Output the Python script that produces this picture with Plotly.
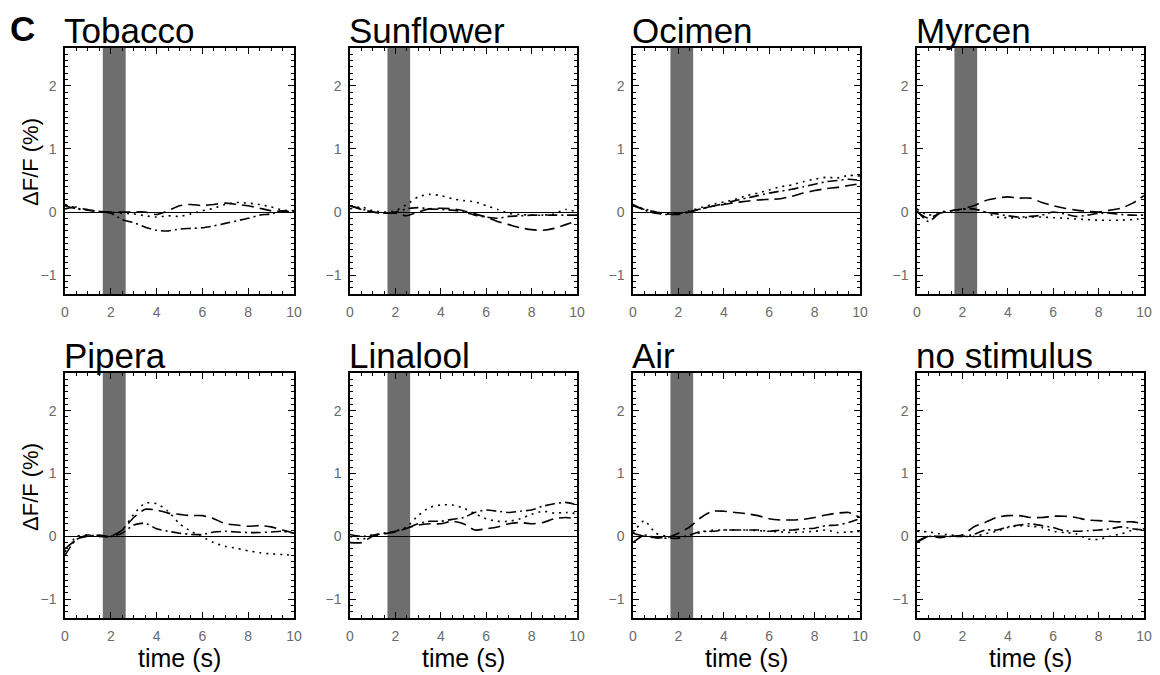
import plotly.graph_objects as go

# the page adds an 8px body margin; the figure is sized/positioned to compensate
PAGE_OFF = 8
W, H = 1160 - PAGE_OFF, 675 - PAGE_OFF

time_s = [0, 0.5, 1, 1.5, 2, 2.5, 3, 3.5, 4, 4.5, 5, 5.5, 6, 6.5, 7, 7.5, 8, 8.5, 9, 9.5, 10]

panel_names = ["Tobacco", "Sunflower", "Ocimen", "Myrcen",
               "Pipera", "Linalool", "Air", "no stimulus"]
has_stimulus = [True, True, True, True, True, True, True, False]
stim_on, stim_off = 1.65, 2.65

x_ticks = [0, 2, 4, 6, 8, 10]
y_ticks = [-1, 0, 1, 2]
y_tick_text = ["\u22121", "0", "1", "2"]

# dashed, dotted, dash-dot series per panel (ΔF/F, %)
tobacco_dash = [0.05, 0.08, 0.03, 0.01, 0.0, 0.0, 0.0, 0.0, -0.04, 0.02, 0.1, 0.12, 0.1, 0.12, 0.14, 0.12, 0.1, 0.06, 0.02, 0.01, 0.0]
tobacco_dot = [0.12, 0.06, 0.04, 0.0, 0.0, -0.02, -0.03, -0.06, -0.08, -0.06, -0.07, -0.03, 0.02, 0.06, 0.12, 0.15, 0.14, 0.12, 0.08, 0.03, 0.02]
tobacco_dashdot = [0.1, 0.05, 0.03, 0.01, -0.02, -0.12, -0.17, -0.24, -0.29, -0.3, -0.27, -0.26, -0.25, -0.22, -0.18, -0.14, -0.1, -0.05, -0.03, 0.02, 0.0]

sunflower_dash = [0.1, 0.04, 0.0, -0.02, -0.02, -0.06, 0.0, 0.05, 0.06, 0.05, 0.02, -0.03, -0.08, -0.15, -0.2, -0.25, -0.28, -0.29, -0.26, -0.2, -0.14]
sunflower_dot = [0.05, 0.08, 0.02, 0.0, 0.02, 0.12, 0.24, 0.28, 0.26, 0.21, 0.18, 0.16, 0.1, 0.04, -0.02, -0.04, -0.05, -0.05, -0.03, 0.04, 0.0]
sunflower_dashdot = [0.1, 0.05, 0.0, -0.02, 0.0, 0.05, 0.07, 0.05, 0.04, 0.03, 0.0, -0.05, -0.08, -0.1, -0.07, -0.06, -0.05, -0.05, -0.05, -0.05, -0.05]

ocimen_dash = [0.1, 0.04, 0.0, -0.03, -0.04, 0.0, 0.05, 0.09, 0.12, 0.15, 0.17, 0.19, 0.2, 0.21, 0.25, 0.3, 0.34, 0.37, 0.39, 0.42, 0.45]
ocimen_dot = [0.1, 0.05, 0.0, -0.03, -0.03, 0.02, 0.07, 0.12, 0.16, 0.2, 0.26, 0.3, 0.35, 0.4, 0.43, 0.48, 0.52, 0.55, 0.54, 0.58, 0.57]
ocimen_dashdot = [0.12, 0.03, -0.02, -0.04, -0.03, 0.01, 0.05, 0.09, 0.13, 0.18, 0.22, 0.26, 0.3, 0.33, 0.36, 0.4, 0.44, 0.48, 0.5, 0.52, 0.5]

myrcen_dash = [0.0, -0.1, -0.02, 0.02, 0.05, 0.1, 0.18, 0.22, 0.24, 0.22, 0.22, 0.15, 0.1, 0.06, 0.03, 0.01, 0.0, 0.03, 0.06, 0.14, 0.26]
myrcen_dot = [0.05, -0.05, 0.0, 0.02, 0.04, 0.05, 0.0, -0.08, -0.09, -0.1, -0.08, -0.08, -0.09, -0.1, -0.11, -0.12, -0.13, -0.13, -0.13, -0.12, -0.1]
myrcen_dashdot = [0.02, -0.15, -0.02, 0.02, 0.05, 0.05, 0.0, -0.03, -0.06, -0.08, -0.07, -0.05, 0.0, -0.03, -0.07, -0.05, -0.02, -0.02, -0.04, -0.05, -0.05]

pipera_dash = [-0.2, -0.05, 0.02, 0.0, 0.0, 0.1, 0.3, 0.43, 0.42, 0.37, 0.35, 0.33, 0.33, 0.28, 0.2, 0.18, 0.16, 0.17, 0.15, 0.1, 0.05]
pipera_dot = [-0.25, 0.0, 0.02, 0.0, 0.0, 0.1, 0.35, 0.53, 0.52, 0.4, 0.2, 0.08, -0.01, -0.1, -0.16, -0.19, -0.23, -0.26, -0.28, -0.29, -0.3]
pipera_dashdot = [-0.3, -0.05, 0.0, 0.02, 0.0, 0.05, 0.18, 0.21, 0.12, 0.08, 0.05, 0.03, 0.03, 0.07, 0.08, 0.07, 0.06, 0.06, 0.07, 0.08, 0.05]

linalool_dash = [-0.1, -0.1, 0.0, 0.04, 0.07, 0.13, 0.18, 0.2, 0.2, 0.24, 0.2, 0.1, 0.12, 0.15, 0.2, 0.22, 0.2, 0.22, 0.28, 0.3, 0.28]
linalool_dot = [0.0, -0.05, 0.02, 0.05, 0.08, 0.15, 0.33, 0.46, 0.5, 0.5, 0.45, 0.36, 0.28, 0.24, 0.24, 0.28, 0.35, 0.4, 0.37, 0.38, 0.36]
linalool_dashdot = [0.03, 0.0, 0.02, 0.05, 0.08, 0.13, 0.2, 0.24, 0.24, 0.27, 0.3, 0.38, 0.42, 0.4, 0.38, 0.4, 0.42, 0.48, 0.52, 0.54, 0.5]

air_dash = [0.05, 0.0, -0.02, -0.02, 0.05, 0.15, 0.3, 0.4, 0.4, 0.38, 0.36, 0.33, 0.28, 0.26, 0.26, 0.27, 0.3, 0.34, 0.37, 0.38, 0.3]
air_dot = [0.05, 0.25, 0.05, 0.0, -0.02, 0.02, 0.06, 0.1, 0.1, 0.1, 0.1, 0.09, 0.08, 0.07, 0.06, 0.07, 0.08, 0.1, 0.06, 0.07, 0.08]
air_dashdot = [-0.1, 0.02, -0.02, -0.03, -0.03, 0.02, 0.08, 0.08, 0.1, 0.1, 0.1, 0.1, 0.08, 0.1, 0.1, 0.12, 0.13, 0.17, 0.18, 0.22, 0.28]

nostim_dash = [-0.08, 0.0, 0.0, 0.0, 0.02, 0.15, 0.22, 0.3, 0.33, 0.33, 0.3, 0.3, 0.32, 0.32, 0.3, 0.26, 0.25, 0.24, 0.23, 0.23, 0.2]
nostim_dot = [0.08, 0.07, 0.04, 0.02, 0.0, 0.0, 0.04, 0.08, 0.14, 0.17, 0.16, 0.14, 0.08, 0.06, 0.04, -0.04, -0.05, 0.0, 0.04, 0.1, 0.12]
nostim_dashdot = [-0.1, 0.0, -0.02, 0.0, 0.0, 0.03, 0.1, 0.1, 0.15, 0.18, 0.2, 0.17, 0.14, 0.09, 0.08, 0.09, 0.1, 0.12, 0.15, 0.12, 0.1]

series = [
    (tobacco_dash, tobacco_dot, tobacco_dashdot),
    (sunflower_dash, sunflower_dot, sunflower_dashdot),
    (ocimen_dash, ocimen_dot, ocimen_dashdot),
    (myrcen_dash, myrcen_dot, myrcen_dashdot),
    (pipera_dash, pipera_dot, pipera_dashdot),
    (linalool_dash, linalool_dot, linalool_dashdot),
    (air_dash, air_dot, air_dashdot),
    (nostim_dash, nostim_dot, nostim_dashdot),
]
dash_styles = ["12px,6px", "2px,5px", "10px,4px,2px,4px"]

# layout geometry (screen pixels)
col_left = [65, 350, 633, 917]
col_right = [294, 577, 860, 1144]
row_top = [48, 373]
row_bottom = [294, 618]


def px_x(p):
    return (p - PAGE_OFF) / W


def px_y(p):
    return 1 - (p - PAGE_OFF) / H


FONT = "Liberation Sans, Arial, Helvetica, sans-serif"
TICK_COLOR = "#6a6a6a"

fig = go.Figure()
layout = {}
annotations = []
shapes = []

for i, name in enumerate(panel_names):
    r, c = divmod(i, 4)
    n = i + 1
    xa = "xaxis" if n == 1 else f"xaxis{n}"
    ya = "yaxis" if n == 1 else f"yaxis{n}"
    xref = "x" if n == 1 else f"x{n}"
    yref = "y" if n == 1 else f"y{n}"
    common = dict(
        showline=True, linecolor="black", linewidth=1.5, mirror="allticks",
        ticks="inside", ticklen=6, tickwidth=1.2, tickcolor="black",
        showgrid=False, automargin=False,
        tickfont=dict(family=FONT, size=14, color=TICK_COLOR),
    )
    layout[xa] = dict(
        domain=[px_x(col_left[c]), px_x(col_right[c])], range=[0, 10], anchor=yref,
        tickvals=x_ticks, ticktext=[str(v) for v in x_ticks],
        zeroline=False, ticklabelstandoff=4,
        minor=dict(ticks="inside", dtick=0.5, ticklen=3, tickcolor="black", tickwidth=1),
        **common,
    )
    layout[ya] = dict(
        domain=[px_y(row_bottom[r]), px_y(row_top[r])], range=[-1.3, 2.6], anchor=xref,
        tickvals=y_ticks, ticktext=y_tick_text,
        zeroline=True, zerolinecolor="black", zerolinewidth=1, ticklabelstandoff=4,
        minor=dict(ticks="inside", tick0=0, dtick=0.1, ticklen=3, tickcolor="black", tickwidth=1),
        **common,
    )
    if has_stimulus[i]:
        shapes.append(dict(type="rect", xref=xref, yref=f"{yref} domain",
                           x0=stim_on, x1=stim_off, y0=0, y1=1,
                           fillcolor="#6e6e6e", line=dict(width=0), layer="below"))
    for vals, ds in zip(series[i], dash_styles):
        fig.add_trace(go.Scatter(x=time_s, y=vals, mode="lines",
                                 line=dict(color="black", width=1.6, dash=ds, shape="spline", smoothing=0.6),
                                 xaxis=xref, yaxis=yref, showlegend=False, hoverinfo="skip"))
    annotations.append(dict(text=name, xref="paper", yref="paper",
                            x=px_x(col_left[c] - 3), y=px_y(row_top[r] + 4),
                            xanchor="left", yanchor="bottom", showarrow=False,
                            font=dict(family=FONT, size=35, color="black")))
    if c == 0:
        annotations.append(dict(text="\u0394F/F (%)", xref="paper", yref="paper",
                                x=px_x(30), y=px_y(row_top[r] + 114),
                                xanchor="center", yanchor="middle", textangle=-90,
                                showarrow=False,
                                font=dict(family=FONT, size=22, color="black")))
    if r == 1:
        annotations.append(dict(text="time (s)", xref="paper", yref="paper",
                                x=px_x((col_left[c] + col_right[c]) / 2), y=px_y(658),
                                xanchor="center", yanchor="middle", showarrow=False,
                                font=dict(family=FONT, size=25, color="black")))

annotations.append(dict(text="<b>C</b>", xref="paper", yref="paper",
                        x=px_x(9), y=px_y(29), xanchor="left", yanchor="middle",
                        borderpad=0, showarrow=False,
                        font=dict(family=FONT, size=35, color="black")))

fig.update_layout(
    width=W, height=H,
    margin=dict(l=0, r=0, t=0, b=0),
    plot_bgcolor="white", paper_bgcolor="white",
    annotations=annotations, shapes=shapes,
    **layout,
)

fig.write_html("out.html")
